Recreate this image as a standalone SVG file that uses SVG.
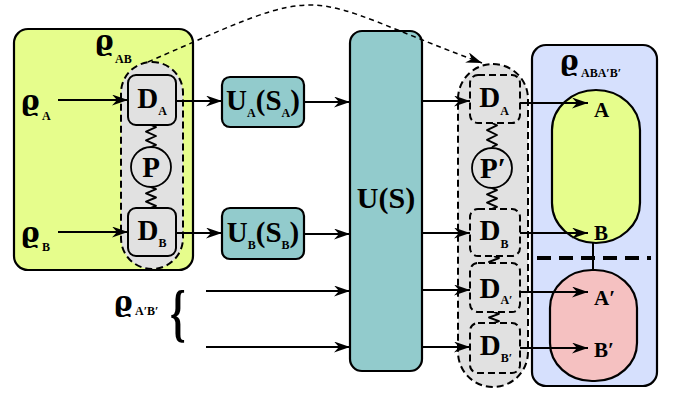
<svg xmlns="http://www.w3.org/2000/svg" width="674" height="394" viewBox="0 0 674 394">
<style>
.t{font-family:"Liberation Serif","Times New Roman","DejaVu Serif",serif;font-weight:bold;fill:#000}
.big{font-size:29px}
.sub{font-size:12px}
.rho{font-family:"DejaVu Serif","Liberation Serif",serif;font-size:28px;font-weight:bold}
.lbl{font-size:21px}
.ln{stroke:#000;stroke-width:2;fill:none}
.box{stroke:#000;stroke-width:2.2}
.dbox{fill:#e1e1e1;stroke:#000;stroke-width:2}
.ddash{fill:#e1e1e1;stroke:#000;stroke-width:2;stroke-dasharray:7 4}
.wig{stroke:#000;stroke-width:1.9;fill:none;stroke-linejoin:round}
</style>
<defs>
<marker id="ah" viewBox="0 0 16 11" markerWidth="16" markerHeight="11" refX="16" refY="5.5" orient="auto" markerUnits="userSpaceOnUse">
<path d="M0,0 L16,5.5 L0,11 L5,5.5 z" fill="#000"/>
</marker>
</defs>

<g id="rhoAB-box">
<rect x="14" y="29" width="179" height="241" rx="14" fill="#e6fd8c" class="box"/>
<text class="t rho" x="95" y="50">ϱ</text><text class="t sub" x="115" y="63">AB</text>
</g>

<g id="state-box">
<rect x="532" y="45" width="125" height="341" rx="14" fill="#d6e0fd" class="box"/>
<text class="t rho" x="560" y="70">ϱ</text><text class="t sub" x="581" y="77">ABA′B′</text>
<rect x="552" y="90" width="88" height="153" rx="44" ry="40" fill="#e6fd8c" class="box"/>
<rect x="550" y="270" width="87" height="111" rx="42" ry="38" fill="#f5c1c1" class="box"/>
<line x1="593" y1="243" x2="593" y2="270" class="ln"/>
<line x1="537" y1="258" x2="651" y2="258" stroke="#000" stroke-width="4" stroke-dasharray="14 8"/>
<text class="t lbl" x="594" y="117">A</text>
<text class="t lbl" x="594" y="240">B</text>
<text class="t lbl" x="594" y="305">A′</text>
<text class="t lbl" x="594" y="357">B′</text>
</g>

<g id="left-pair">
<rect x="121" y="62" width="62" height="207" rx="31" class="ddash" stroke-width="1.6" stroke-dasharray="5 3.5"/>
<path class="wig" d="M151 125 l5 2.2 l-10 4.4 l10 4.4 l-10 4.4 l10 4.4 l-5 2.2"/>
<path class="wig" d="M151 187 l5 2.1 l-10 4.2 l10 4.2 l-10 4.2 l10 4.2 l-5 2.1"/>
</g>
<g id="DA">
<rect x="128" y="75" width="48" height="50" rx="8" class="dbox"/>
<text class="t big" x="152" y="108" text-anchor="middle">D<tspan class="sub" dy="7">A</tspan></text>
</g>
<g id="P">
<circle cx="151" cy="167" r="20" fill="#e1e1e1" stroke="#000" stroke-width="1.8"/>
<text class="t big" x="151" y="177" text-anchor="middle">P</text>
</g>
<g id="DB">
<rect x="128" y="208" width="48" height="48" rx="8" class="dbox"/>
<text class="t big" x="152" y="240" text-anchor="middle">D<tspan class="sub" dy="7">B</tspan></text>
</g>

<g id="UA">
<rect x="222" y="77" width="82" height="50" rx="8" fill="#92cbcc" class="box"/>
<text class="t big" x="263" y="110" text-anchor="middle">U<tspan class="sub" dy="7">A</tspan><tspan dy="-7">(S</tspan><tspan class="sub" dy="7">A</tspan><tspan dy="-7">)</tspan></text>
</g>
<g id="UB">
<rect x="222" y="208" width="82" height="51" rx="8" fill="#92cbcc" class="box"/>
<text class="t big" x="263" y="242" text-anchor="middle">U<tspan class="sub" dy="7">B</tspan><tspan dy="-7">(S</tspan><tspan class="sub" dy="7">B</tspan><tspan dy="-7">)</tspan></text>
</g>
<g id="US">
<rect x="350" y="31" width="72" height="340" rx="12" fill="#92cbcc" class="box"/>
<text class="t" font-size="30" x="386" y="208" text-anchor="middle">U(S)</text>
</g>

<g id="right-pair">
<rect x="458" y="64" width="70" height="323" rx="35" class="ddash" stroke-width="1.6" stroke-dasharray="5 3.5"/>
<path class="wig" d="M492 123 l5 2.4 l-10 4.8 l10 4.8 l-10 4.8 l10 4.8 l-5 2.4"/>
<path class="wig" d="M492 188 l5 2.1 l-10 4.2 l10 4.2 l-10 4.2 l10 4.2 l-5 2.1"/>
<path class="wig" d="M494 256 l5 2 l-10 4 l5 2"/>
<path class="wig" d="M494 312 l5 1.8 l-10 3.7 l10 3.7 l-5 1.8"/>
</g>
<g id="DA2">
<rect x="470" y="75" width="50" height="48" rx="8" class="ddash"/>
<text class="t big" x="494" y="107" text-anchor="middle">D<tspan class="sub" dy="8">A</tspan></text>
</g>
<g id="P2">
<circle cx="492" cy="168" r="20" fill="#e1e1e1" stroke="#000" stroke-width="1.8"/>
<text class="t big" x="493" y="178" text-anchor="middle">P′</text>
</g>
<g id="DB2">
<rect x="470" y="209" width="50" height="47" rx="8" class="ddash"/>
<text class="t big" x="494" y="240" text-anchor="middle">D<tspan class="sub" dy="8">B</tspan></text>
</g>
<g id="DA3">
<rect x="470" y="263" width="50" height="49" rx="8" class="ddash"/>
<text class="t big" x="496" y="298" text-anchor="middle">D<tspan class="sub" dy="6">A′</tspan></text>
</g>
<g id="DB3">
<rect x="470" y="323" width="50" height="50" rx="8" class="ddash"/>
<text class="t big" x="496" y="355" text-anchor="middle">D<tspan class="sub" dy="7">B′</tspan></text>
</g>

<g id="inputs">
<text class="t rho" x="21" y="110">ϱ</text><text class="t sub" x="42" y="120">A</text>
<text class="t rho" x="21" y="242">ϱ</text><text class="t sub" x="42" y="251">B</text>
<text class="t rho" x="114" y="311">ϱ</text><text class="t sub" x="135" y="315">A′B′</text>
<text class="t" font-size="64" transform="translate(170 334) scale(0.62 1)">{</text>
</g>

<g id="connectors">
<line x1="58" y1="100" x2="128" y2="100" class="ln" marker-end="url(#ah)"/>
<line x1="58" y1="232" x2="128" y2="232" class="ln" marker-end="url(#ah)"/>
<line x1="176" y1="101" x2="222" y2="101" class="ln" marker-end="url(#ah)"/>
<line x1="176" y1="233" x2="222" y2="233" class="ln" marker-end="url(#ah)"/>
<line x1="304" y1="102" x2="350" y2="102" class="ln" marker-end="url(#ah)"/>
<line x1="304" y1="234" x2="350" y2="234" class="ln" marker-end="url(#ah)"/>
<line x1="206" y1="291" x2="350" y2="291" class="ln" marker-end="url(#ah)"/>
<line x1="206" y1="347" x2="350" y2="347" class="ln" marker-end="url(#ah)"/>
<line x1="422" y1="101" x2="470" y2="101" class="ln" marker-end="url(#ah)"/>
<line x1="422" y1="233" x2="470" y2="233" class="ln" marker-end="url(#ah)"/>
<line x1="422" y1="290" x2="470" y2="290" class="ln" marker-end="url(#ah)"/>
<line x1="422" y1="347" x2="470" y2="347" class="ln" marker-end="url(#ah)"/>
<line x1="520" y1="103" x2="588" y2="103" class="ln" marker-end="url(#ah)"/>
<line x1="520" y1="233" x2="588" y2="233" class="ln" marker-end="url(#ah)"/>
<line x1="520" y1="292" x2="588" y2="292" class="ln" marker-end="url(#ah)"/>
<line x1="520" y1="348" x2="588" y2="348" class="ln" marker-end="url(#ah)"/>
<path d="M148 62 C337 -21 293 -7 482 63" fill="none" stroke="#000" stroke-width="1.5" stroke-dasharray="5 4" marker-end="url(#ah)"/>
</g>
</svg>
